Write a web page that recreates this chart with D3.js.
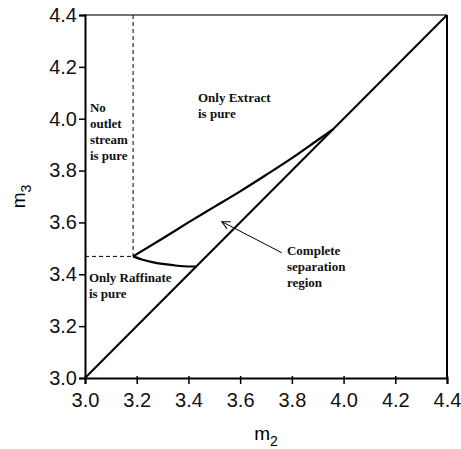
<!DOCTYPE html>
<html>
<head>
<meta charset="utf-8">
<script src="https://cdn.jsdelivr.net/npm/d3@7"></script>
<style>
  body { margin: 0; background: #fff; }
  .tick text { font-family: "Liberation Sans", Arial, sans-serif; font-size: 20px; fill: #111; }
  .note { font-family: "Liberation Serif", "Times New Roman", serif; font-weight: bold; font-size: 13px; fill: #111; }
</style>
</head>
<body>
<svg id="chart"></svg>
<script>
// axis ticks
let ticks = [3.0, 3.2, 3.4, 3.6, 3.8, 4.0, 4.2, 4.4];

// diagonal m3 = m2
let diagM2 = [3.0, 4.4];
let diagM3 = [3.0, 4.4];

// upper boundary of the complete separation region
let upperM2 = [3.186, 3.3, 3.4, 3.5, 3.6, 3.7, 3.8, 3.9, 3.96];
let upperM3 = [3.469, 3.538, 3.600, 3.660, 3.720, 3.783, 3.848, 3.918, 3.96];

// lower boundary
let lowerM2 = [3.186, 3.22, 3.26, 3.30, 3.34, 3.38, 3.43];
let lowerM3 = [3.469, 3.457, 3.447, 3.440, 3.435, 3.431, 3.430];

// vertex (dashed guides)
let vertex = [3.186, 3.469];

// labels
let notes = [
  { lines: ["No", "outlet", "stream", "is pure"], m2: 3.019, m3: 4.026 },
  { lines: ["Only Extract", "is pure"], m2: 3.437, m3: 4.064 },
  { lines: ["Only Raffinate", "is pure"], m2: 3.015, m3: 3.370 },
  { lines: ["Complete", "separation", "region"], m2: 3.781, m3: 3.474 }
];
let arrowFrom = [3.761, 3.483];
let arrowTo = [3.529, 3.603];

let W = 461, H = 449;
let margin = { left: 85, right: 14, top: 15, bottom: 71 };
let w = W - margin.left - margin.right;
let h = H - margin.top - margin.bottom;

let svg = d3.select("#chart").attr("width", W).attr("height", H);
let g = svg.append("g").attr("transform", "translate(" + margin.left + "," + margin.top + ")");

let x = d3.scaleLinear().domain([3.0, 4.4]).range([0, w]);
let y = d3.scaleLinear().domain([3.0, 4.4]).range([h, 0]);

// frame
g.append("line").attr("x1", 0).attr("x2", w).attr("y1", 0).attr("y2", 0)
  .attr("stroke", "#444").attr("stroke-width", 1.5);
g.append("line").attr("x1", w).attr("x2", w).attr("y1", 0).attr("y2", h)
  .attr("stroke", "#000").attr("stroke-width", 2);

// axes
let xAxis = g.append("g").attr("transform", "translate(0," + h + ")")
  .call(d3.axisBottom(x).tickValues(ticks).tickFormat(d3.format(".1f")).tickSize(6).tickPadding(9));
xAxis.select(".domain").attr("stroke-width", 2).attr("stroke", "#000");
xAxis.selectAll(".tick line").attr("y1", -2).attr("stroke-width", 1.5);

let yAxis = g.append("g")
  .call(d3.axisLeft(y).tickValues(ticks).tickFormat(d3.format(".1f")).tickSize(6).tickPadding(2));
yAxis.select(".domain").attr("stroke-width", 2).attr("stroke", "#000");
yAxis.selectAll(".tick line").attr("stroke-width", 1.5);

// axis titles
let xt = svg.append("text").attr("x", margin.left + x(3.7)).attr("y", 440)
  .attr("text-anchor", "middle")
  .style("font-family", "Liberation Sans, Arial, sans-serif").style("font-size", "19px");
xt.append("tspan").text("m");
xt.append("tspan").attr("dy", 6).style("font-size", "14px").text("2");

let yt = svg.append("text")
  .attr("transform", "translate(25," + (margin.top + y(3.7)) + ") rotate(-90)")
  .attr("text-anchor", "middle")
  .style("font-family", "Liberation Sans, Arial, sans-serif").style("font-size", "19px");
yt.append("tspan").text("m");
yt.append("tspan").attr("dy", 6).style("font-size", "14px").text("3");

// dashed guides
g.append("line")
  .attr("x1", x(vertex[0])).attr("x2", x(vertex[0]))
  .attr("y1", y(4.4)).attr("y2", y(vertex[1]))
  .attr("stroke", "#000").attr("stroke-width", 1).attr("stroke-dasharray", "4,3");
g.append("line")
  .attr("x1", x(3.0)).attr("x2", x(vertex[0]))
  .attr("y1", y(vertex[1])).attr("y2", y(vertex[1]))
  .attr("stroke", "#000").attr("stroke-width", 1).attr("stroke-dasharray", "4,3");

let line = d3.line().x(d => x(d[0])).y(d => y(d[1]));

// diagonal
g.append("path").datum(d3.zip(diagM2, diagM3)).attr("d", line)
  .attr("fill", "none").attr("stroke", "#000").attr("stroke-width", 2);

// region boundaries
let curve = d3.line().x(d => x(d[0])).y(d => y(d[1])).curve(d3.curveMonotoneX);
g.append("path").datum(d3.zip(upperM2, upperM3)).attr("d", curve)
  .attr("fill", "none").attr("stroke", "#000").attr("stroke-width", 2.2);
g.append("path").datum(d3.zip(lowerM2, lowerM3)).attr("d", curve)
  .attr("fill", "none").attr("stroke", "#000").attr("stroke-width", 2.2);

// arrow
svg.append("defs").append("marker")
  .attr("id", "arr").attr("markerUnits", "userSpaceOnUse")
  .attr("markerWidth", 12).attr("markerHeight", 12)
  .attr("refX", 9).attr("refY", 5).attr("orient", "auto")
  .append("path").attr("d", "M1,1 L9,5 L1,9")
  .attr("fill", "none").attr("stroke", "#000").attr("stroke-width", 1);
g.append("line")
  .attr("x1", x(arrowFrom[0])).attr("y1", y(arrowFrom[1]))
  .attr("x2", x(arrowTo[0])).attr("y2", y(arrowTo[1]))
  .attr("stroke", "#000").attr("stroke-width", 1)
  .attr("marker-end", "url(#arr)");

// text labels
notes.forEach(n => {
  let t = g.append("text").attr("class", "note")
    .attr("x", x(n.m2)).attr("y", y(n.m3));
  n.lines.forEach((s, i) => {
    t.append("tspan").attr("x", x(n.m2)).attr("dy", i === 0 ? 0 : 16).text(s);
  });
});
</script>
</body>
</html>
